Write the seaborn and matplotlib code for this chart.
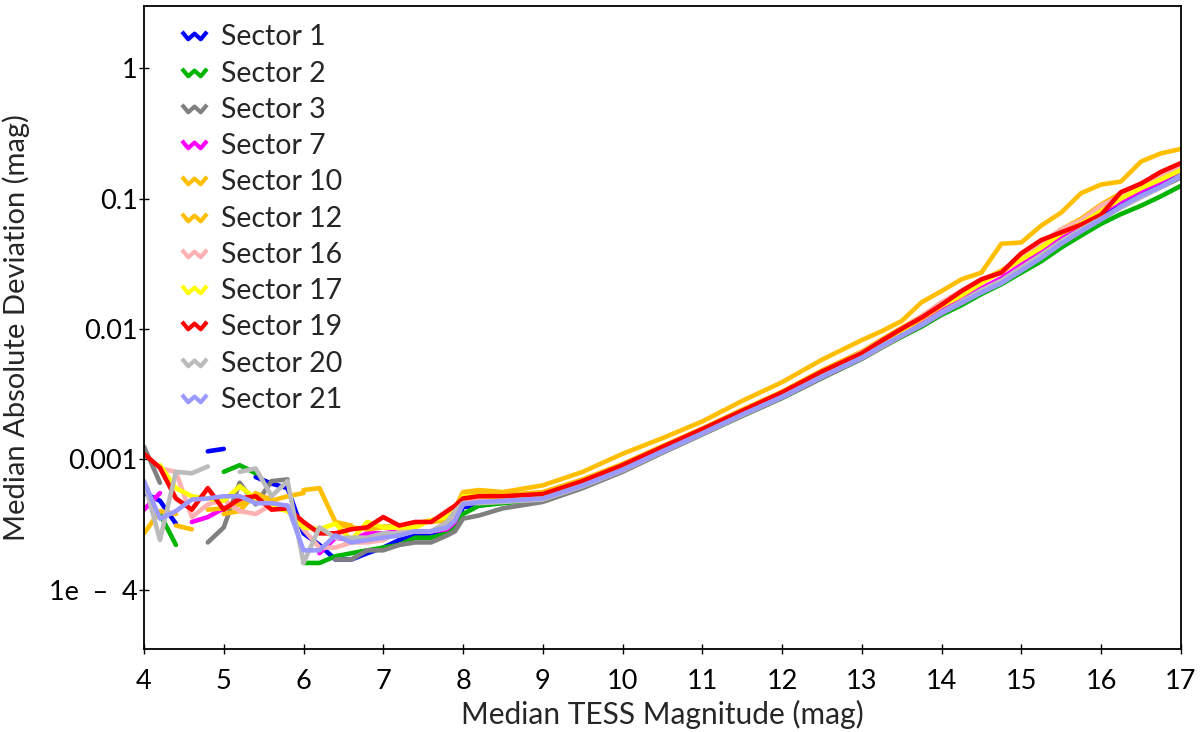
import numpy as np
import pandas as pd
import seaborn as sns
import matplotlib.pyplot as plt
from matplotlib.path import Path
from matplotlib.lines import Line2D
from matplotlib.ticker import FixedLocator, FixedFormatter, NullLocator

nan = np.nan

# --- data (median absolute deviation in mmag) ---
mag = [4.0, 4.2, 4.4, 4.6, 4.8, 5.0, 5.2, 5.4, 5.6, 5.8, 6.0, 6.2, 6.4, 6.6, 6.8,
       7.0, 7.2, 7.4, 7.6, 7.8, 7.9, 8.0, 8.2, 8.5, 9.0, 9.5, 10.0, 10.5, 11.0,
       11.5, 12.0, 12.5, 13.0, 13.25, 13.5, 13.75, 14.0, 14.25, 14.5, 14.75,
       15.0, 15.25, 15.5, 15.75, 16.0, 16.25, 16.5, 16.75, 17.0]

sectors = ['Sector 1', 'Sector 2', 'Sector 3', 'Sector 7', 'Sector 10', 'Sector 12',
           'Sector 16', 'Sector 17', 'Sector 19', 'Sector 20', 'Sector 21']
colors = ['#0000ff', '#00b400', '#808080', '#ff00ff', '#ffbf00', '#ffbf00',
          '#ffb0b0', '#ffff00', '#ff0000', '#bbbbbb', '#9999ff']

s1 = [0.55, 0.48, 0.32, nan, 1.15, 1.2, nan, 0.73, 0.65, 0.60, 0.27, 0.22, 0.17, 0.17, 0.19,
      0.21, 0.24, 0.26, 0.27, 0.28, 0.31, 0.43,
      0.44, 0.47, 0.49, 0.62, 0.82, 1.14, 1.57, 2.2, 3.0, 4.3, 6.1, 7.5, 9.1, 11.0, 13.6,
      16.4, 19.8, 23.5, 29.5, 37, 47, 58, 72, 88, 108, 128, 158]
s2 = [nan, 0.38, 0.22, nan, nan, 0.80, 0.90, 0.78, nan, nan, 0.16, 0.16, 0.18, 0.19, 0.20,
      0.21, 0.22, 0.25, 0.25, 0.27, 0.30, 0.38,
      0.44, 0.46, 0.49, 0.62, 0.82, 1.13, 1.56, 2.15, 2.95, 4.2, 5.9, 7.2, 8.7, 10.4, 12.8,
      15.2, 18.5, 22, 27, 33, 42, 52, 64, 76, 88, 104, 125]
s3 = [1.25, 0.66, nan, nan, 0.23, 0.30, 0.66, 0.45, 0.68, 0.70, nan, nan, 0.17, 0.17, 0.20,
      0.20, 0.22, 0.23, 0.23, 0.26, 0.28, 0.35,
      0.37, 0.42, 0.47, 0.60, 0.80, 1.12, 1.55, 2.15, 2.95, 4.2, 5.9, 7.2, 8.8, 10.6, 13.1,
      15.8, 19.2, 22.8, 28.5, 36, 45, 56, 70, 86, 104, 122, 145]
s7 = [0.41, 0.55, nan, 0.33, 0.36, 0.42, 0.48, 0.49, nan, nan, nan, 0.19, 0.25, 0.24, 0.27,
      0.27, 0.28, 0.28, 0.28, 0.29, 0.33, 0.50,
      0.52, 0.50, 0.50, 0.63, 0.83, 1.16, 1.6, 2.22, 3.05, 4.4, 6.2, 7.6, 9.2, 11.2, 14.0,
      16.8, 20.5, 24.5, 31, 39, 50, 62, 78, 96, 115, 135, 165]
s10 = [0.27, 0.40, 0.38, nan, 0.41, 0.42, 0.45, 0.52, 0.50, nan, 0.58, 0.60, 0.33, 0.31, nan,
       0.31, 0.31, nan, 0.33, 0.34, 0.42, 0.56,
       0.58, 0.56, 0.63, 0.80, 1.10, 1.45, 1.95, 2.8, 3.9, 5.8, 8.2, 9.6, 11.5, 16, 19.5,
       24, 27, 45, 46, 62, 78, 110, 128, 135, 192, 222, 240]
s12 = [0.32, nan, 0.31, 0.29, nan, 0.38, 0.40, 0.55, 0.48, 0.52, 0.55, nan, 0.32, 0.30, 0.29,
       0.30, 0.30, 0.32, 0.34, 0.36, 0.40, 0.55,
       0.55, 0.53, 0.56, 0.70, 0.92, 1.26, 1.72, 2.4, 3.3, 4.8, 6.7, 8.3, 10.2, 12.5, 15.8,
       19, 23.5, 28, 35, 44, 58, 70, 90, 110, 130, 155, 180]
s16 = [nan, 0.85, 0.80, 0.36, 0.45, 0.49, 0.40, 0.38, 0.45, 0.44, 0.29, 0.21, 0.21, 0.23, 0.23,
       0.24, 0.28, 0.28, 0.28, 0.30, 0.35, 0.47,
       0.49, 0.50, 0.52, 0.65, 0.86, 1.2, 1.65, 2.3, 3.2, 4.6, 6.6, 8.1, 10.0, 12.5, 16,
       19.5, 24, 27, 36, 46, 58, 68, 88, 105, 125, 150, 172]
s17 = [nan, 0.90, 0.60, 0.52, 0.50, 0.48, 0.62, 0.50, 0.43, 0.40, 0.30, 0.29, 0.32, 0.24, 0.33,
       0.30, 0.30, 0.30, 0.34, 0.36, 0.40, 0.52,
       0.52, 0.51, 0.53, 0.66, 0.87, 1.2, 1.66, 2.3, 3.15, 4.6, 6.5, 8.0, 9.7, 12, 15,
       18, 22.5, 27.5, 34, 42, 54, 64, 80, 100, 120, 140, 165]
s19 = [1.1, 0.86, 0.50, 0.41, 0.60, 0.41, 0.50, 0.52, 0.41, 0.42, 0.33, 0.27, 0.27, 0.29, 0.30,
       0.36, 0.31, 0.33, 0.33, 0.40, 0.44, 0.50,
       0.52, 0.52, 0.54, 0.68, 0.90, 1.24, 1.70, 2.35, 3.25, 4.7, 6.5, 8.1, 10.0, 12.2, 15.3,
       19.5, 24, 27, 38, 48, 55, 63, 75, 112, 130, 160, 187]
s20 = [0.68, 0.24, 0.80, 0.78, 0.88, nan, 0.80, 0.85, 0.52, 0.68, 0.16, 0.30, 0.25, 0.25, 0.25,
       0.27, 0.27, 0.28, 0.28, 0.33, 0.40, 0.46,
       0.46, 0.47, 0.49, 0.62, 0.82, 1.14, 1.57, 2.18, 3.0, 4.3, 6.0, 7.3, 8.9, 10.8, 13.4,
       16.2, 19.8, 23.5, 29.5, 37, 47, 58, 70, 85, 102, 122, 150]
s21 = [0.68, 0.35, 0.40, 0.49, 0.50, 0.52, 0.52, 0.46, 0.46, 0.44, 0.20, 0.20, 0.26, 0.23, 0.24,
       0.25, 0.26, 0.28, 0.28, 0.30, 0.34, 0.45,
       0.47, 0.48, 0.50, 0.63, 0.83, 1.15, 1.58, 2.2, 3.0, 4.3, 6.0, 7.4, 8.9, 10.7, 13.2,
       15.8, 19, 22.4, 28, 35, 45, 56, 69, 87, 105, 123, 148]

series = [s1, s2, s3, s7, s10, s12, s16, s17, s19, s20, s21]

y_ticks = [1e-4, 1e-3, 1e-2, 1e-1, 1]
y_tick_labels = ['1e\u2002\u2013\u20024', '0.001', '0.01', '0.1', '1']


def main():
    # long table; NaNs split a series into separate pieces (units)
    rows = []
    for name, vals in zip(sectors, series):
        piece = 0
        for m, v in zip(mag, vals):
            if np.isnan(v):
                piece += 1
                continue
            rows.append({'mag': m, 'mad': v / 1000.0, 'sector': name,
                         'piece': f'{name}-{piece}'})
    df = pd.DataFrame(rows)

    sns.set_style('ticks')
    plt.rcParams['font.family'] = ['Lato', 'DejaVu Sans']

    fig = plt.figure(figsize=(12, 7.32), dpi=100)
    ax = fig.add_axes([0.12, 0.1134, 0.864, 0.8784])

    palette = dict(zip(sectors, colors))
    sns.lineplot(data=df, x='mag', y='mad', hue='sector', units='piece',
                 estimator=None, palette=palette, hue_order=sectors,
                 linewidth=3.3, legend=False, sort=False, ax=ax)

    ax.set_yscale('log')
    ax.set_xlim(4, 17)
    ax.set_ylim(3.5e-5, 3.0)
    ax.xaxis.set_major_locator(FixedLocator(list(range(4, 18))))
    ax.yaxis.set_major_locator(FixedLocator(y_ticks))
    ax.yaxis.set_major_formatter(FixedFormatter(y_tick_labels))
    ax.yaxis.set_minor_locator(NullLocator())
    ax.tick_params(direction='inout', length=7, width=1, labelsize=19.5, colors='black')
    ax.tick_params(axis='x', pad=11)
    ax.tick_params(axis='y', pad=1)
    for sp in ax.spines.values():
        sp.set_linewidth(1.3)
        sp.set_color('black')

    ax.set_xlabel('Median TESS Magnitude (mag)', fontsize=21.5, labelpad=4)
    ax.set_ylabel('Median Absolute Deviation (mag)', fontsize=21, labelpad=14)

    # zig-zag legend handles
    zig = Path([(-1.0, 0.3), (-0.5, -0.3), (0.0, 0.15), (0.5, -0.3), (1.0, 0.3)])
    handles = [Line2D([0], [0], color=c, marker=zig, linestyle='None', markersize=18,
                      markeredgewidth=3, fillstyle='none') for c in colors]
    ax.legend(handles, sectors, loc='upper left', bbox_to_anchor=(0.015, 0.998),
              frameon=False, fontsize=20.5, labelspacing=0.36, handletextpad=0.35,
              handlelength=1.2, borderaxespad=0.2)

    fig.savefig('out.png', dpi=100)


if __name__ == '__main__':
    main()
